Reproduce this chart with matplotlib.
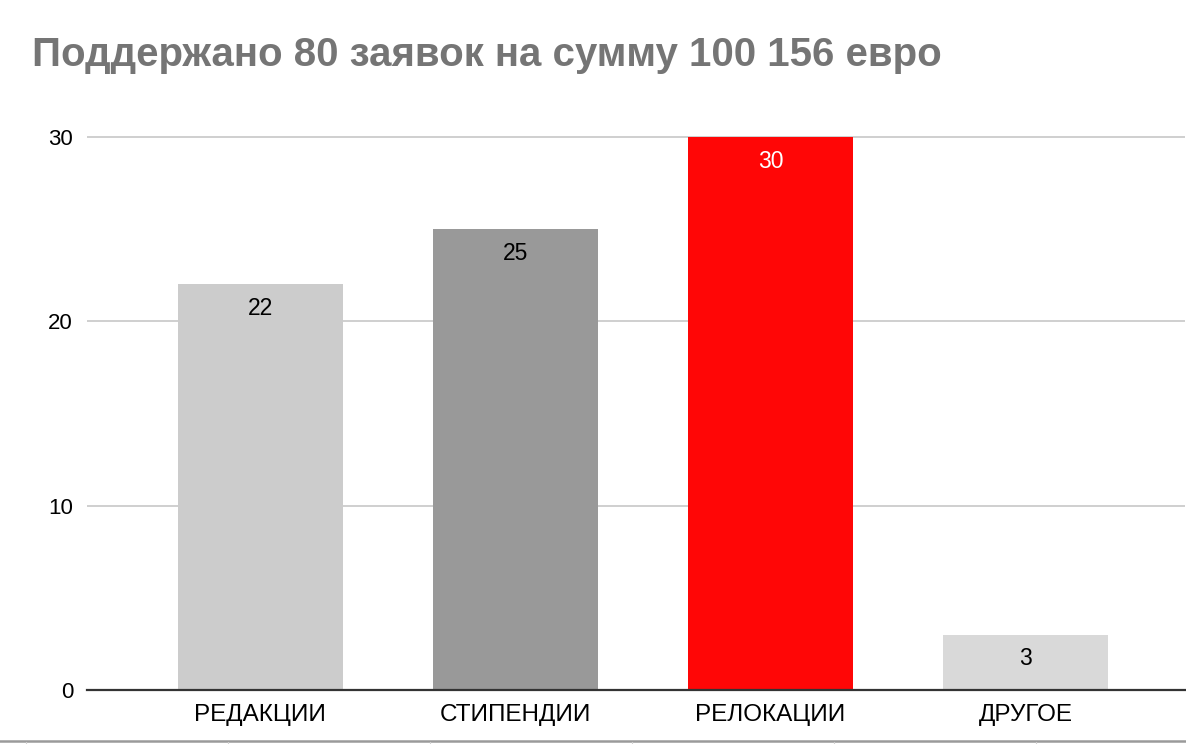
import matplotlib
matplotlib.use("Agg")
import matplotlib.pyplot as plt
from matplotlib.lines import Line2D

plt.rcParams['font.family'] = ['Liberation Sans', 'DejaVu Sans']

title = "Поддержано 80 заявок на сумму 100 156 евро"
categories = ["РЕДАКЦИИ", "СТИПЕНДИИ", "РЕЛОКАЦИИ", "ДРУГОЕ"]
counts = [22, 25, 30, 3]
bar_colors = ["#cccccc", "#999999", "#ff0606", "#d9d9d9"]
label_colors = ["black", "black", "white", "black"]
yticks = [0, 10, 20, 30]

W, H = 1186, 744
fig = plt.figure(figsize=(W / 100, H / 100), dpi=100)
fig.patch.set_facecolor("white")

# axes box in pixels: left 87, right 1185, bottom 690, top 130
ax = fig.add_axes([87 / W, (H - 690) / H, (1185 - 87) / W, (690 - 130) / H])

x = list(range(len(categories)))
ax.bar(x, counts, width=0.647, color=bar_colors, zorder=3)

ax.set_xlim(-0.680, 3.625)
ax.set_ylim(0, 30.38)
ax.set_yticks(yticks)
ax.set_yticklabels([str(t) for t in yticks])
ax.set_xticks(x)
ax.set_xticklabels(categories, fontsize=17.5)

ax.grid(axis="y", color="#cccccc", linewidth=1.3, zorder=0)
ax.axhline(0, color="#333333", linewidth=1.6, zorder=4, clip_on=False)
for s in ax.spines.values():
    s.set_visible(False)
ax.tick_params(axis="y", length=0, labelsize=16, colors="black", pad=10)
ax.tick_params(axis="x", length=0, colors="black", pad=10)

for xi, v, c in zip(x, counts, label_colors):
    ax.annotate(str(v), (xi, v), xytext=(0, -9), textcoords="offset points",
                ha="center", va="top", fontsize=16.5, color=c, zorder=5)

fig.text(32 / W, 1 - 55 / H, title, fontsize=29, fontweight="bold",
         color="#757575", ha="left", va="center")

# spreadsheet cell border strip at the bottom
fig.add_artist(Line2D([0, 1], [1 - 740.5 / H, 1 - 740.5 / H], color="#9a9a9a",
                      linewidth=1.8, transform=fig.transFigure))
for px in [26, 228, 430, 632, 834, 1036]:
    fig.add_artist(Line2D([px / W, px / W], [0, 1 - 742 / H], color="#d0d0d0",
                          linewidth=0.8, transform=fig.transFigure))

fig.savefig("out.png", dpi=100, facecolor="white")
